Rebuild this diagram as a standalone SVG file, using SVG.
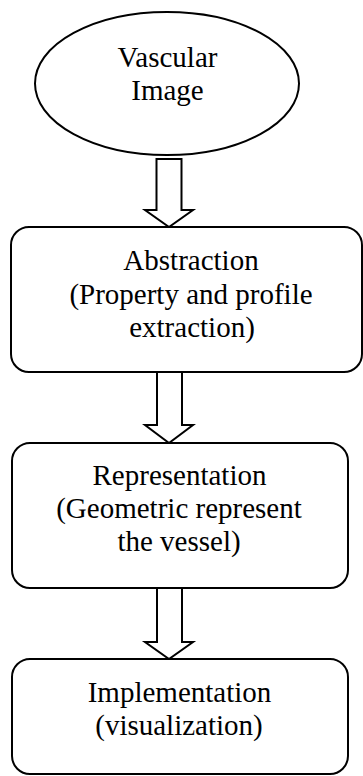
<svg xmlns="http://www.w3.org/2000/svg" width="363" height="776" viewBox="0 0 363 776">
  <style>
    .shape { fill: #ffffff; stroke: #000000; stroke-width: 2; }
    .label { font-family: "Liberation Serif", "Times New Roman", serif; font-size: 29px; fill: #000000; text-anchor: middle; }
  </style>
  <rect width="363" height="776" fill="#ffffff"/>

  <!-- block arrows between the stages -->
  <g id="connectors">
    <polygon class="shape" points="156.5,159 181.5,159 181.5,210 193,210 169,227 145,210 156.5,210"/>
    <polygon class="shape" points="157,372 182,372 182,425 193,425 169,443 145,425 157,425"/>
    <polygon class="shape" points="157,588 182,588 182,642 193,642 169,659 145,642 157,642"/>
  </g>

  <g id="vascular-image">
    <ellipse class="shape" cx="167" cy="83.5" rx="132" ry="71.5"/>
    <text class="label" x="167.5" y="67">Vascular</text>
    <text class="label" x="167.5" y="100">Image</text>
  </g>

  <g id="abstraction">
    <rect class="shape" x="11" y="227" width="351" height="145" rx="18" ry="18"/>
    <text class="label" x="191" y="270">Abstraction</text>
    <text class="label" x="191" y="304">(Property and profile</text>
    <text class="label" x="192" y="337">extraction)</text>
  </g>

  <g id="representation">
    <rect class="shape" x="12" y="443" width="336" height="145" rx="18" ry="18"/>
    <text class="label" x="179.5" y="485">Representation</text>
    <text class="label" x="179" y="518">(Geometric represent</text>
    <text class="label" x="179" y="551">the vessel)</text>
  </g>

  <g id="implementation">
    <rect class="shape" x="12" y="659" width="336" height="115" rx="18" ry="18"/>
    <text class="label" x="179.5" y="702">Implementation</text>
    <text class="label" x="179" y="735">(visualization)</text>
  </g>
</svg>
